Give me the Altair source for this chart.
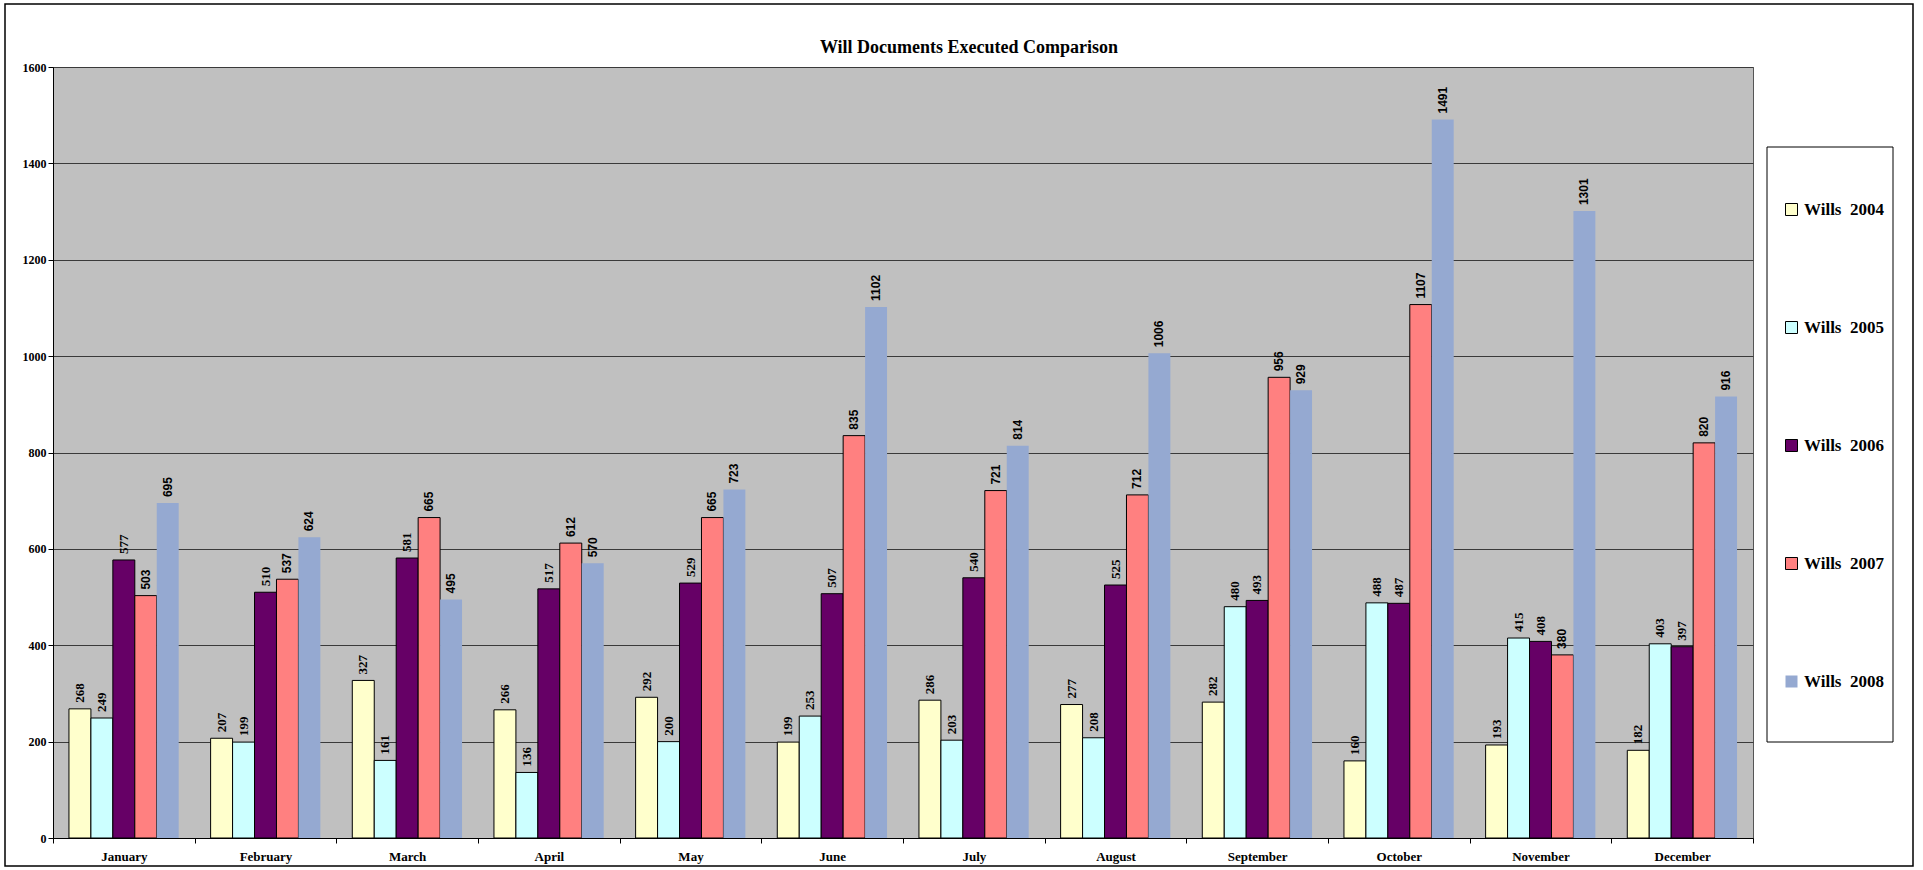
import altair as alt
import pandas as pd

months = ["January", "February", "March", "April", "May", "June", "July",
          "August", "September", "October", "November", "December"]
series_names = ["Wills\u00a0 2004", "Wills\u00a0 2005", "Wills\u00a0 2006",
                "Wills\u00a0 2007", "Wills\u00a0 2008"]
wills_2004 = [268, 207, 327, 266, 292, 199, 286, 277, 282, 160, 193, 182]
wills_2005 = [249, 199, 161, 136, 200, 253, 203, 208, 480, 488, 415, 403]
wills_2006 = [577, 510, 581, 517, 529, 507, 540, 525, 493, 487, 408, 397]
wills_2007 = [503, 537, 665, 612, 665, 835, 721, 712, 956, 1107, 380, 820]
wills_2008 = [695, 624, 495, 570, 723, 1102, 814, 1006, 929, 1491, 1301, 916]
fill_colors = ["#FFFFCC", "#CCFFFF", "#660066", "#FF8080", "#95A9D1"]
stroke_colors = ["#000000", "#000000", "#000000", "#000000", "transparent"]
chart_title = "Will Documents Executed Comparison"

rows = []
for name, vals in zip(series_names, [wills_2004, wills_2005, wills_2006, wills_2007, wills_2008]):
    for m, v in zip(months, vals):
        rows.append({"month": m, "series": name, "value": v})
df = pd.DataFrame(rows)

W, H = 1700, 771

x_enc = alt.X("month:N", sort=months, title=None,
              scale=alt.Scale(paddingInner=0, paddingOuter=0),
              axis=alt.Axis(labelAngle=0, labelFont="Liberation Serif", labelFontWeight="bold",
                            labelFontSize=13, labelColor="black", labelPadding=7,
                            domainColor="black", tickColor="black", tickSize=5,
                            tickBand="extent", grid=False))
xoff = alt.XOffset("series:N", sort=series_names,
                   scale=alt.Scale(paddingInner=0, paddingOuter=0.727))
y_enc = alt.Y("value:Q", title=None,
              scale=alt.Scale(domain=[0, 1600], nice=False),
              axis=alt.Axis(values=list(range(0, 1601, 200)), format="d",
                            labelFont="Liberation Serif",
                            labelFontWeight="bold", labelFontSize=12, labelColor="black",
                            domainColor="black", tickColor="black", tickSize=5,
                            gridColor="#3a3a3a", gridOpacity=1, gridWidth=1))

base = alt.Chart(df)

bars = base.mark_bar(strokeWidth=1).encode(
    x=x_enc, xOffset=xoff, y=y_enc,
    fill=alt.Fill("series:N", sort=series_names, title=None,
                  scale=alt.Scale(domain=series_names, range=fill_colors),
                  legend=alt.Legend(orient="none", legendX=1730, legendY=134,
                                    symbolType="square", symbolSize=144, symbolStrokeWidth=1,
                                    labelFont="Liberation Serif", labelFontWeight="bold",
                                    labelFontSize=17, labelColor="black", labelLimit=300,
                                    rowPadding=100, padding=0)),
    stroke=alt.Stroke("series:N", sort=series_names, title=None,
                      scale=alt.Scale(domain=series_names, range=stroke_colors)),
)

serif_labels = base.transform_filter(
    alt.FieldOneOfPredicate(field="series", oneOf=series_names[:3])
).mark_text(angle=270, align="left", baseline="middle", dx=6,
            font="Liberation Serif", fontWeight="bold", fontSize=13, color="black").encode(
    x=alt.X("month:N", sort=months), xOffset=xoff, y="value:Q", text="value:Q")

sans_labels = base.transform_filter(
    alt.FieldOneOfPredicate(field="series", oneOf=series_names[3:])
).mark_text(angle=270, align="left", baseline="middle", dx=6,
            font="Liberation Sans", fontWeight="bold", fontSize=12, color="black").encode(
    x=alt.X("month:N", sort=months), xOffset=xoff, y="value:Q", text="value:Q")

one_row = pd.DataFrame({"k": [0]})

# chart heading, placed above the plot area
heading = alt.Chart(one_row).mark_text(
    font="Liberation Serif", fontWeight="bold", fontSize=18, color="black",
    align="center", baseline="middle", clip=False).encode(
    x=alt.value(916), y=alt.value(-19), text=alt.value(chart_title))

# legend frame and outer chart frame
legend_box = alt.Chart(one_row).mark_rect(
    fill="white", stroke="black", strokeWidth=1, clip=False).encode(
    x=alt.value(1714), x2=alt.value(1840), y=alt.value(80), y2=alt.value(675))
outer_box = alt.Chart(one_row).mark_rect(
    fill="transparent", stroke="black", strokeWidth=1.5, clip=False).encode(
    x=alt.value(-48), x2=alt.value(1860), y=alt.value(-63), y2=alt.value(799))

chart = alt.layer(outer_box, legend_box, heading, bars, serif_labels, sans_labels).properties(
    width=W, height=H,
    autosize=alt.AutoSizeParams(type="none"),
    padding={"left": 53, "top": 67, "right": 170, "bottom": 32},
    background="white",
).configure_view(
    fill="#C0C0C0", stroke="#555555", strokeWidth=1
)

chart.save("out.html", embed_options={"renderer": "svg", "actions": False})
